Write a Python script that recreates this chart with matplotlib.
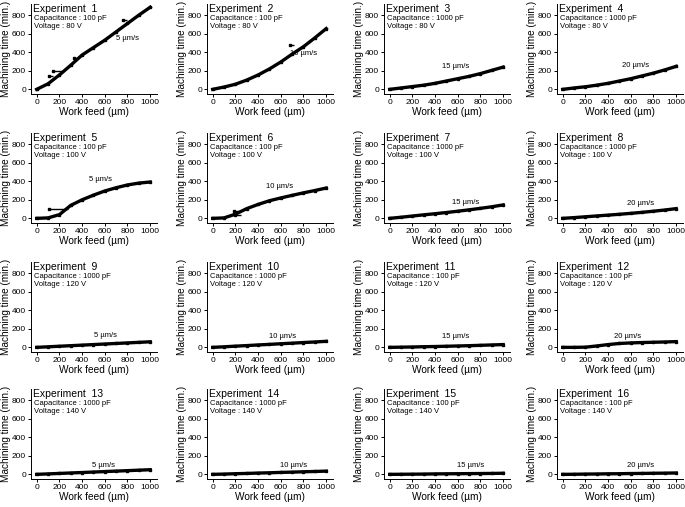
import numpy as np
import matplotlib
matplotlib.use("Agg")
import matplotlib.pyplot as plt

plt.rcParams['font.family'] = ['Liberation Sans', 'DejaVu Sans']

# work feed (um) sampled every 100 um
feed = [0, 100, 200, 300, 400, 500, 600, 700, 800, 900, 1000]

# machining time (min.) per experiment
time_1 = [0, 60, 155, 260, 370, 450, 530, 620, 710, 800, 885]
time_2 = [0, 25, 55, 100, 155, 220, 295, 380, 460, 555, 655]
time_3 = [0, 15, 30, 45, 65, 90, 115, 140, 170, 205, 240]
time_4 = [0, 15, 28, 45, 65, 90, 115, 145, 175, 210, 248]
time_5 = [0, 5, 40, 140, 200, 250, 295, 330, 360, 380, 392]
time_6 = [0, 5, 45, 105, 150, 190, 220, 248, 275, 300, 327]
time_7 = [0, 12, 25, 38, 50, 63, 77, 92, 108, 125, 145]
time_8 = [0, 8, 17, 26, 35, 44, 54, 65, 77, 90, 105]
time_9 = [0, 6, 12, 18, 24, 30, 36, 42, 48, 54, 60]
time_10 = [0, 6, 13, 19, 26, 32, 39, 45, 52, 58, 65]
time_11 = [0, 2, 4, 7, 9, 12, 15, 18, 22, 26, 30]
time_12 = [0, 0, 2, 15, 30, 42, 48, 52, 55, 58, 62]
time_13 = [0, 5, 10, 15, 20, 25, 30, 35, 40, 45, 50]
time_14 = [0, 3, 7, 10, 14, 17, 21, 24, 28, 31, 35]
time_15 = [0, 1, 2, 3, 5, 6, 7, 8, 9, 10, 12]
time_16 = [0, 1, 3, 4, 6, 7, 9, 10, 12, 13, 15]

times = [time_1, time_2, time_3, time_4, time_5, time_6, time_7, time_8,
         time_9, time_10, time_11, time_12, time_13, time_14, time_15, time_16]

capacitance = [100, 100, 1000, 1000, 100, 100, 1000, 1000,
               1000, 1000, 100, 100, 1000, 1000, 100, 100]
voltage = [80, 80, 80, 80, 100, 100, 100, 100,
           120, 120, 120, 120, 140, 140, 140, 140]
speed = [5, 10, 15, 20] * 4

# scattered readings with horizontal spread (experiment, feed, time, spread)
spread_pts = [(1, 140, 195, 100), (1, 110, 140, 30), (1, 330, 340, 30), (1, 760, 750, 40),
              (2, 680, 480, 40), (5, 110, 100, 170), (6, 190, 80, 60), (6, 200, 40, 50)]

# speed label positions in data units
label_x = [800, 800, 585, 640, 560, 585, 670, 685, 610, 620, 585, 570, 590, 710, 715, 685]
label_y = [545, 390, 246, 256, 420, 340, 175, 165, 123, 120, 120, 120, 100, 100, 100, 100]

fig = plt.figure(figsize=(6.85, 5.07), dpi=100)
W, H = 685.0, 507.0
col_left = [31, 207, 384, 557]
row_top = [4, 133, 262, 389]
ax_w, ax_h = 126, 90

for i in range(16):
    r, c = divmod(i, 4)
    ax = fig.add_axes([col_left[c] / W, 1 - (row_top[r] + ax_h) / H, ax_w / W, ax_h / H])
    ax.plot(feed, times[i], color='k', lw=2.4, marker='s', ms=2)
    for e, fx, ty, sp in spread_pts:
        if e == i + 1:
            ax.errorbar([fx], [ty], xerr=[[0], [sp]], fmt='s', color='k', ms=2, lw=1, capsize=0)
    ax.set_xlim(-50, 1060)
    ax.set_ylim(-50, 920)
    ax.set_xticks([0, 200, 400, 600, 800, 1000])
    ax.set_yticks([0, 200, 400, 600, 800])
    ax.spines['top'].set_visible(False)
    ax.spines['right'].set_visible(False)
    ax.spines['left'].set_linewidth(0.7)
    ax.spines['bottom'].set_linewidth(0.7)
    ax.tick_params(labelsize=6, length=2, width=0.7, pad=1.5)
    ax.set_xlabel('Work feed (µm)', fontsize=7.3, labelpad=1)
    ax.set_ylabel('Machining time (min.)', fontsize=7.2, labelpad=1)
    ax.text(0.015, 1.0, 'Experiment  %d' % (i + 1), transform=ax.transAxes,
            fontsize=7.5, va='top', ha='left')
    ax.text(0.02, 0.84, 'Capacitance : %d pF' % capacitance[i], transform=ax.transAxes,
            fontsize=5.5, va='center', ha='left')
    ax.text(0.02, 0.75, 'Voltage : %d V' % voltage[i], transform=ax.transAxes,
            fontsize=5.5, va='center', ha='left')
    ax.text(label_x[i], label_y[i], '%d µm/s' % speed[i], fontsize=5.5, ha='center', va='center')

fig.savefig('out.png', dpi=100)
